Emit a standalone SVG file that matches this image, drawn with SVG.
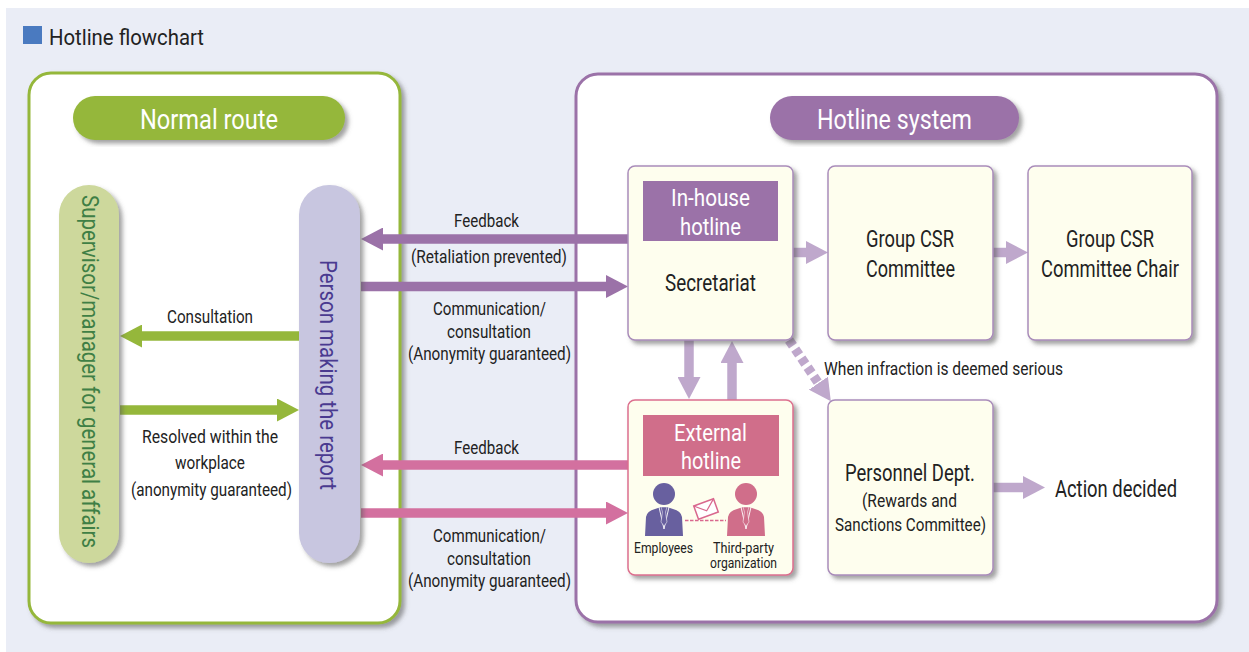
<svg xmlns="http://www.w3.org/2000/svg" width="1249" height="652" viewBox="0 0 1249 652">
<style>
text{font-family:Roboto,"Liberation Sans",sans-serif;fill:#222;text-anchor:middle}
text:not([transform]){transform:translateY(.8px)}
.s17{font-size:18.5px}.s21{font-size:23px}.s22{font-size:24px}.s13{font-size:14.5px}
.w{fill:#fff}
.panel{fill:#fff;stroke-width:3}
.box{fill:#fefeee;stroke:#a98cba;stroke-width:1.5}
.conn{fill:none;stroke-width:9.5}
</style>
<defs>
<filter id="sh" x="-10%" y="-10%" width="125%" height="125%"><feDropShadow dx="3.5" dy="3.5" stdDeviation="2.2" flood-color="#555" flood-opacity=".55"/></filter>
<marker id="mP" markerUnits="userSpaceOnUse" markerWidth="23" markerHeight="23" refX="1" refY="11.5" orient="auto"><path d="M0 0L22 11.5L0 23Z" fill="#9b72a8"/></marker>
<marker id="mL" markerUnits="userSpaceOnUse" markerWidth="23" markerHeight="23" refX="1" refY="11.5" orient="auto"><path d="M0 0L22 11.5L0 23Z" fill="#bfa8cc"/></marker>
<marker id="mG" markerUnits="userSpaceOnUse" markerWidth="23" markerHeight="23" refX="1" refY="11.5" orient="auto"><path d="M0 0L22 11.5L0 23Z" fill="#95b73b"/></marker>
<marker id="mK" markerUnits="userSpaceOnUse" markerWidth="23" markerHeight="23" refX="1" refY="11.5" orient="auto"><path d="M0 0L22 11.5L0 23Z" fill="#d3709f"/></marker>
<g id="person"><circle cx="0" cy="-26" r="11"/><path d="M-19 16L-18 -3Q-17 -9 -9 -11L-3 -13H3L9 -11Q17 -9 18 -3L19 16Z"/><path d="M-5 -13L0 9L5 -13" fill="none" stroke="#fff" stroke-width=".9"/><path d="M-3 -13H3L1.500 -8L3 2L0 6L-3 2L-1.500 -8Z" stroke="#fff" stroke-width=".5"/></g>
</defs>
<rect x="6" y="8" width="1243" height="644" fill="#eaedf6"/>
<rect x="23" y="26" width="19" height="18" fill="#4a7ac0"/>
<text x="126.500" y="44" font-size="22.500" textLength="155" lengthAdjust="spacingAndGlyphs">Hotline flowchart</text>

<g id="panel-normal"><rect class="panel" x="29" y="73" width="371" height="550" rx="22" stroke="#95b73b" filter="url(#sh)"/></g>
<g id="panel-hotline"><rect class="panel" x="576" y="74" width="641" height="548" rx="22" stroke="#9b72a8" filter="url(#sh)"/></g>

<g id="connectors">
<line class="conn" stroke="#9b72a8" x1="628" y1="239" x2="382" y2="239" marker-end="url(#mP)"/>
<line class="conn" stroke="#9b72a8" x1="361" y1="286.500" x2="607" y2="286.500" marker-end="url(#mP)"/>
<line class="conn" stroke="#95b73b" x1="299" y1="336" x2="141" y2="336" marker-end="url(#mG)"/>
<line class="conn" stroke="#95b73b" x1="120" y1="410" x2="278" y2="410" marker-end="url(#mG)"/>
<line class="conn" stroke="#d3709f" x1="628" y1="465" x2="382" y2="465" marker-end="url(#mK)"/>
<line class="conn" stroke="#d3709f" x1="361" y1="513" x2="607" y2="513" marker-end="url(#mK)"/>
<line class="conn" stroke="#bfa8cc" x1="793" y1="252.500" x2="807" y2="252.500" marker-end="url(#mL)"/>
<line class="conn" stroke="#bfa8cc" x1="993" y1="252.500" x2="1007" y2="252.500" marker-end="url(#mL)"/>
<line class="conn" stroke="#bfa8cc" x1="689" y1="340" x2="689" y2="378" marker-end="url(#mL)"/>
<line class="conn" stroke="#bfa8cc" x1="732" y1="400" x2="732" y2="362" marker-end="url(#mL)"/>
<line class="conn" stroke="#bfa8cc" stroke-dasharray="7 4" x1="789" y1="340" x2="819" y2="384" marker-end="url(#mL)"/>
<line class="conn" stroke="#bfa8cc" x1="993" y1="487.500" x2="1024" y2="487.500" marker-end="url(#mL)"/>
</g>

<g id="normal-route"><rect x="73" y="96" width="272" height="44" rx="22" fill="#95b73b" filter="url(#sh)"/><text class="w" x="209" y="128" font-size="28" textLength="138" lengthAdjust="spacingAndGlyphs">Normal route</text></g>
<g id="hotline-system"><rect x="770" y="96" width="249" height="44" rx="22" fill="#9b72a8" filter="url(#sh)"/><text class="w" x="894.500" y="128" font-size="28" textLength="155" lengthAdjust="spacingAndGlyphs">Hotline system</text></g>

<g id="supervisor"><rect x="59" y="185" width="60" height="378" rx="30" fill="#cdd89c" filter="url(#sh)"/><text transform="translate(82 371.500) rotate(90)" font-size="24" style="fill:#3f7f45" textLength="353" lengthAdjust="spacingAndGlyphs">Supervisor/manager for general affairs</text></g>
<g id="person-reporting"><rect x="299" y="185" width="61" height="378" rx="30" fill="#c8c6e0" filter="url(#sh)"/><text transform="translate(320 375) rotate(90)" font-size="24" style="fill:#4a3a90" textLength="230" lengthAdjust="spacingAndGlyphs">Person making the report</text></g>

<g id="labels">
<text class="s17" x="486.500" y="226" textLength="65" lengthAdjust="spacingAndGlyphs">Feedback</text>
<text class="s17" x="489" y="262" textLength="156" lengthAdjust="spacingAndGlyphs">(Retaliation prevented)</text>
<text class="s17" x="489.500" y="314" textLength="113" lengthAdjust="spacingAndGlyphs">Communication/</text>
<text class="s17" x="489" y="337" textLength="84" lengthAdjust="spacingAndGlyphs">consultation</text>
<text class="s17" x="489.500" y="359" textLength="163" lengthAdjust="spacingAndGlyphs">(Anonymity guaranteed)</text>
<text class="s17" x="210" y="322" textLength="86" lengthAdjust="spacingAndGlyphs">Consultation</text>
<text class="s17" x="210" y="442" textLength="136" lengthAdjust="spacingAndGlyphs">Resolved within the</text>
<text class="s17" x="210" y="468" textLength="70" lengthAdjust="spacingAndGlyphs">workplace</text>
<text class="s17" x="211.500" y="495" textLength="161" lengthAdjust="spacingAndGlyphs">(anonymity guaranteed)</text>
<text class="s17" x="486.500" y="453" textLength="65" lengthAdjust="spacingAndGlyphs">Feedback</text>
<text class="s17" x="489.500" y="541" textLength="113" lengthAdjust="spacingAndGlyphs">Communication/</text>
<text class="s17" x="489" y="564" textLength="84" lengthAdjust="spacingAndGlyphs">consultation</text>
<text class="s17" x="489.500" y="586" textLength="163" lengthAdjust="spacingAndGlyphs">(Anonymity guaranteed)</text>
<text class="s17" x="943.500" y="374" textLength="239" lengthAdjust="spacingAndGlyphs">When infraction is deemed serious</text>
<text class="s22" x="1116" y="496" textLength="122" lengthAdjust="spacingAndGlyphs">Action decided</text>
</g>

<g id="inhouse"><rect class="box" x="628" y="166" width="165" height="174" rx="7" filter="url(#sh)"/><rect x="643" y="181" width="135" height="60" fill="#9b72a8"/>
<text class="s22 w" x="710.500" y="205" textLength="79" lengthAdjust="spacingAndGlyphs">In-house</text><text class="s22 w" x="710.500" y="234" textLength="61" lengthAdjust="spacingAndGlyphs">hotline</text>
<text class="s21" x="710.500" y="290" textLength="91" lengthAdjust="spacingAndGlyphs">Secretariat</text></g>
<g id="csr-committee"><rect class="box" x="828" y="166" width="165" height="174" rx="7" filter="url(#sh)"/>
<text class="s21" x="910" y="246" textLength="88" lengthAdjust="spacingAndGlyphs">Group CSR</text><text class="s21" x="910.500" y="276" textLength="89" lengthAdjust="spacingAndGlyphs">Committee</text></g>
<g id="csr-chair"><rect class="box" x="1028" y="166" width="164" height="174" rx="7" filter="url(#sh)"/>
<text class="s21" x="1110" y="246" textLength="88" lengthAdjust="spacingAndGlyphs">Group CSR</text><text class="s21" x="1110" y="276" textLength="138" lengthAdjust="spacingAndGlyphs">Committee Chair</text></g>
<g id="external"><rect class="box" style="stroke:#dc6f8e" x="628" y="400" width="165" height="175" rx="7" filter="url(#sh)"/><rect x="643" y="415" width="136" height="61" fill="#d06e8a"/>
<text class="s22 w" x="710.500" y="440" textLength="73" lengthAdjust="spacingAndGlyphs">External</text><text class="s22 w" x="711" y="468" textLength="60" lengthAdjust="spacingAndGlyphs">hotline</text>
<line x1="685" y1="520.500" x2="726" y2="520.500" stroke="#d9688e" stroke-width="1.500" stroke-dasharray="3.500 1.500"/>
<use href="#person" x="664" y="520" fill="#68609f"/><use href="#person" x="746" y="520" fill="#d06e8a"/>
<g transform="translate(706 509) rotate(-20)"><rect x="-10.500" y="-7" width="21" height="14" fill="#fff" stroke="#d9688e" stroke-width="1.500"/><path d="M-10.500 -7L0 2L10.500 -7" fill="none" stroke="#d9688e" stroke-width="1.200"/></g>
<text class="s13" x="663.500" y="552" textLength="59" lengthAdjust="spacingAndGlyphs">Employees</text>
<text class="s13" x="743.500" y="552" textLength="61" lengthAdjust="spacingAndGlyphs">Third-party</text>
<text class="s13" x="743.500" y="567" textLength="67" lengthAdjust="spacingAndGlyphs">organization</text></g>
<g id="personnel"><rect class="box" x="828" y="400" width="165" height="175" rx="7" filter="url(#sh)"/>
<text class="s21" x="910" y="480" textLength="130" lengthAdjust="spacingAndGlyphs">Personnel Dept.</text>
<text class="s17" x="909.500" y="506" textLength="95" lengthAdjust="spacingAndGlyphs">(Rewards and</text>
<text class="s17" x="910.500" y="530" textLength="151" lengthAdjust="spacingAndGlyphs">Sanctions Committee)</text></g>
</svg>
